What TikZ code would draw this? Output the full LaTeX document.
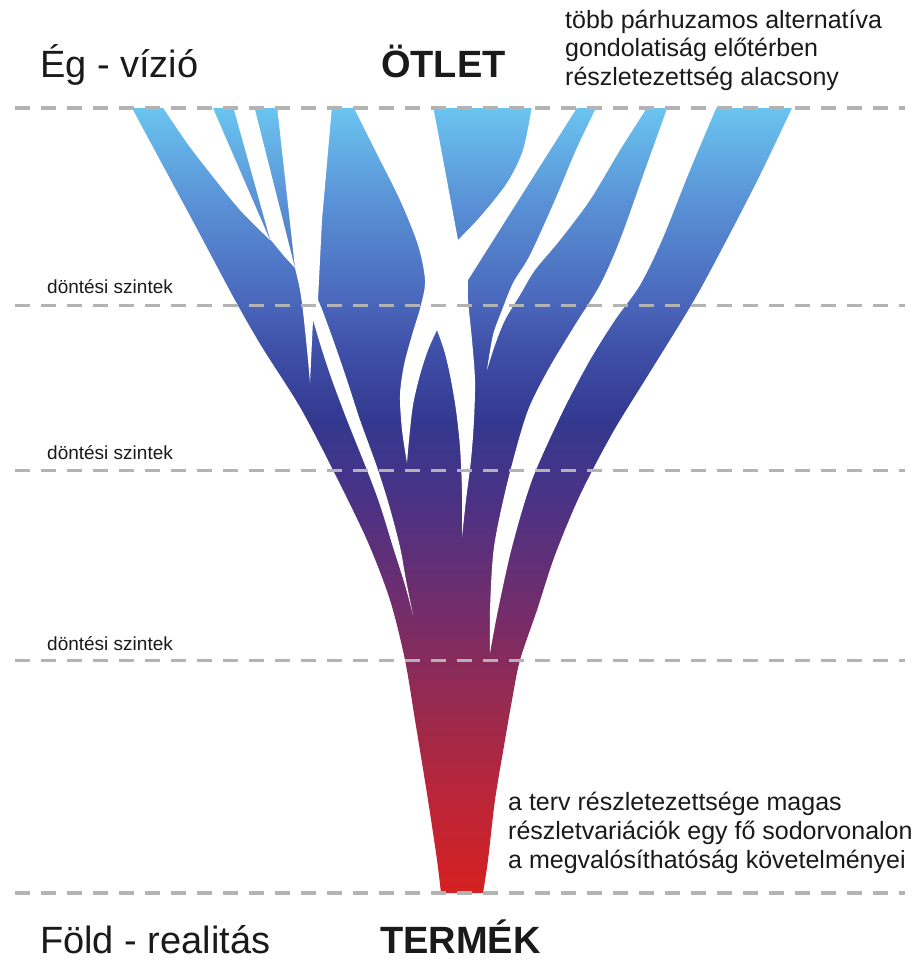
\documentclass[tikz,border=0pt]{standalone}
\usepackage{fontspec}
\setmainfont{Liberation Sans}
\definecolor{cR}{HTML}{D52121}
\definecolor{cA}{HTML}{BC2538}
\definecolor{cB}{HTML}{962A50}
\definecolor{cC}{HTML}{6F2D6D}
\definecolor{cD}{HTML}{4B3285}
\definecolor{cE}{HTML}{33398F}
\definecolor{cF}{HTML}{3F4FA8}
\definecolor{cG}{HTML}{4A68BC}
\definecolor{cH}{HTML}{5A92D6}
\definecolor{cT}{HTML}{6AC4F0}
\definecolor{dashgray}{HTML}{B3B3B3}
\definecolor{txt}{HTML}{1A1A1A}
\pgfdeclareverticalshading{funnelshade}{100bp}{color(0bp)=(cR); color(25bp)=(cR); color(30.9bp)=(cA); color(37.3bp)=(cB); color(43.7bp)=(cC); color(50bp)=(cD); color(55.1bp)=(cE); color(59.6bp)=(cF); color(62.8bp)=(cG); color(69.1bp)=(cH); color(75bp)=(cT); color(100bp)=(cT)}
\tikzset{
  bigtxt/.style={font=\fontsize{38}{44}\selectfont, text=txt, inner sep=0pt, anchor=base west},
  bigbold/.style={font=\fontsize{38}{44}\selectfont\bfseries, text=txt, inner sep=0pt, anchor=base west},
  midtxt/.style={font=\fontsize{25}{29}\selectfont, text=txt, inner sep=0pt, anchor=base west},
  smalltxt/.style={font=\fontsize{19}{22}\selectfont, text=txt, inner sep=0pt, anchor=base west},
  levelline/.style={draw=dashgray, line width=3pt, dash pattern=on 15pt off 11pt},
  gap/.style={fill=white}
}
\begin{document}
\begin{tikzpicture}[x=1pt,y=-1pt]
\path[use as bounding box, fill=white] (0,0) rectangle (921,961);

% funnel body
\shade[shading=funnelshade]
  plot[smooth] coordinates {(132,108) (160,160) (195,225) (235,300) (262,347) (300,407) (333,470) (367,540) (390,600) (405,660) (415,720) (428,800) (437,860) (441,893)}
  -- plot[smooth] coordinates {(483,893) (488,860) (495,800) (505,740) (512,700) (520,660) (537,610) (555,555) (580,495) (613,432) (650,372) (693,302) (725,243) (760,175) (792,108)}
  -- cycle;

% gap A
\fill[gap] plot[smooth] coordinates {(162,106) (187,143) (210,173) (240,210) (270,240)} -- (212,106) -- cycle;
% gap B
\fill[gap] (233,106) -- (270,239) -- (284,256) -- (295,268) -- (254,106) -- cycle;
% gap C with spike and diagonal channel
\fill[gap] (277,106) -- (295,268)
  -- plot[smooth] coordinates {(295,268) (299,285) (302,303) (305,330) (308,360) (310,383)}
  -- (313,320)
  -- plot[smooth] coordinates {(313,320) (322,350) (332,380) (347,420) (367,470) (380,505) (393,547) (405,585) (413,615)}
  -- plot[smooth] coordinates {(413,615) (406,580) (400,547) (389,505) (377,467) (360,420) (347,380) (335,345) (323,312) (318,300)}
  -- (322,220) -- (332,106) -- cycle;
% gaps D and E with the lambda
\fill[gap]
  plot[smooth] coordinates {(353,106) (375,150) (400,200) (418,245) (425,280) (421,305) (412,335) (404,365) (400,395) (402,430) (407,463)}
  -- plot[smooth] coordinates {(407,463) (409,440) (413,405) (420,375) (428,350) (437,330)}
  -- plot[smooth] coordinates {(437,330) (444,350) (450,375) (456,410) (460,447) (462,490) (462,537)}
  -- plot[smooth] coordinates {(462,537) (466,500) (471,460) (474,420) (475,380) (472,340) (468,300) (468,280)}
  -- (578,106) -- (532,106)
  -- plot[smooth] coordinates {(532,106) (523,150) (507,183) (480,217) (458,240)}
  -- (445,170) -- (433,106) -- cycle;
% gap F (crescent)
\fill[gap]
  plot[smooth] coordinates {(597,106) (576,150) (555,200) (530,255) (513,283) (502,310) (493,335) (487,370)}
  -- plot[smooth] coordinates {(487,370) (495,345) (505,320) (520,295) (535,270) (560,240) (590,200) (620,150) (648,106)}
  -- cycle;
% gap G (long channel)
\fill[gap]
  plot[smooth] coordinates {(668,106) (645,170) (620,240) (600,285) (575,325) (548,370) (527,413) (508,480) (494,547) (490,610) (490,653)}
  -- plot[smooth] coordinates {(490,653) (498,610) (512,547) (532,480) (562,413) (590,360) (615,320) (640,285) (662,240) (690,170) (717,106)}
  -- cycle;

% level lines
\draw[levelline, line width=3.5pt] (15,108) -- (905,108);
\draw[levelline] (15,305) -- (905,305);
\draw[levelline] (15,470) -- (905,470);
\draw[levelline] (15,660) -- (905,660);
\draw[levelline, line width=3.5pt] (15,893) -- (905,893);

% texts
\node[bigtxt] (sky) at (40,77) {Ég - vízió};
\node[bigbold] (idea) at (381,77) {ÖTLET};
\node[midtxt] (tr1) at (565,28) {több párhuzamos alternatíva};
\node[midtxt] (tr2) at (565,56.5) {gondolatiság előtérben};
\node[midtxt] (tr3) at (565,85) {részletezettség alacsony};
\node[smalltxt] (lv1) at (47,293) {döntési szintek};
\node[smalltxt] (lv2) at (47,459) {döntési szintek};
\node[smalltxt] (lv3) at (47,650) {döntési szintek};
\node[midtxt] (br1) at (508,810) {a terv részletezettsége magas};
\node[midtxt] (br2) at (508,839) {részletvariációk egy fő sodorvonalon};
\node[midtxt] (br3) at (508,868) {a megvalósíthatóság követelményei};
\node[bigtxt] (earth) at (40,953) {Föld - realitás};
\node[bigbold] (product) at (380,953) {TERMÉK};
\end{tikzpicture}
\end{document}
